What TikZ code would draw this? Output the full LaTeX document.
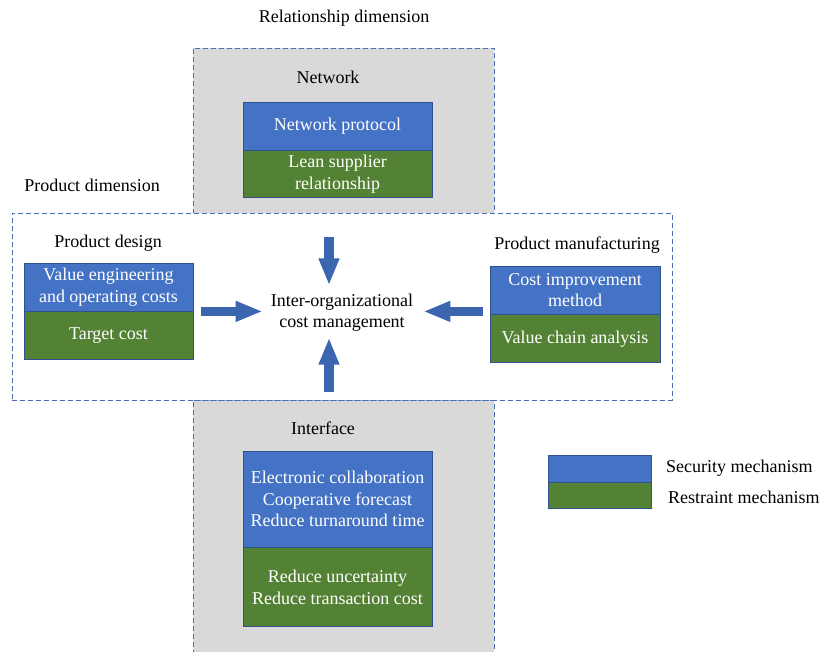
\documentclass[tikz,border=0pt]{standalone}
\usepackage{fontspec}
\setmainfont{Liberation Serif}
\usepackage{tikz}
\usetikzlibrary{arrows.meta,positioning}
\definecolor{secblue}{HTML}{4472C4}
\definecolor{resgreen}{HTML}{548235}
\definecolor{edgeblue}{HTML}{2F528F}
\definecolor{panelgray}{HTML}{D9D9D9}
\definecolor{dashblue}{HTML}{4A6FB5}
\definecolor{arrowblue}{HTML}{3C65B0}

\begin{document}
\begin{tikzpicture}[
  x=1pt, y=-1pt,
  node distance=0pt,
  every node/.style={font=\fontsize{18}{21.5}\selectfont},
  panel/.style={rectangle, draw=dashblue, line width=1pt, dash pattern=on 5pt off 3pt,
                inner sep=0pt},
  secbox/.style={rectangle, draw=edgeblue, line width=0.8pt, fill=secblue,
                 text=white, align=center, inner sep=0pt},
  resbox/.style={rectangle, draw=edgeblue, line width=0.8pt, fill=resgreen,
                 text=white, align=center, inner sep=0pt},
  caption/.style={align=center, inner sep=0pt},
  blockarrow/.style={-{Triangle[length=27pt,width=19pt]}, line width=9.5pt,
                     draw=arrowblue},
]
\useasboundingbox (0,0) rectangle (822,651);
\clip (0,0) rectangle (822,651);

% Panels
\node[panel, fill=panelgray, minimum width=301pt, minimum height=165pt] (netpanel) at (343.5,130.5) {};
\node[panel, fill=panelgray, minimum width=301pt, minimum height=260pt] (intpanel) at (343.5,530) {};
\node[panel, fill=white, minimum width=660pt, minimum height=187pt] (prodpanel) at (342,306.5) {};

% Dimension labels
\node[caption] (reldim) at (344,18) {Relationship dimension};
\node[caption] (proddim) at (92,185) {Product dimension};

% Relationship: network
\node[caption] (netlbl) at (328,77) {Network};
\node[secbox, minimum width=189pt, minimum height=48pt] (netsec) at (337.5,126) {Network protocol};
\node[resbox, minimum width=189pt, minimum height=47pt, below=of netsec] (netres) {Lean supplier\\relationship};

% Product design
\node[caption] (deslbl) at (108,243) {Product design};
\node[secbox, minimum width=169pt, minimum height=48pt] (dessec) at (108.5,287) {Value engineering\\and operating costs};
\node[resbox, minimum width=169pt, minimum height=48pt, below=of dessec] (desres) {Target cost};

% Product manufacturing
\node[caption] (manlbl) at (577,245) {Product manufacturing};
\node[secbox, minimum width=170pt, minimum height=48pt] (mansec) at (575,290) {Cost improvement\\method};
\node[resbox, minimum width=170pt, minimum height=48pt, below=of mansec] (manres) {Value chain analysis};

% Centre
\node[caption] (icm) at (342,312.5) {Inter-organizational\\cost management};

% Relationship: interface
\node[caption] (intlbl) at (323,428) {Interface};
\node[secbox, minimum width=189pt, minimum height=96pt] (intsec) at (337.5,499) {Electronic collaboration\\Cooperative forecast\\Reduce turnaround time};
\node[resbox, minimum width=189pt, minimum height=79pt, below=of intsec] (intres) {Reduce uncertainty\\Reduce transaction cost};

% Legend
\node[secbox, minimum width=103pt, minimum height=27pt] (legsec) at (599.5,468.5) {};
\node[resbox, minimum width=103pt, minimum height=26pt, below=of legsec] (legres) {};
\node[caption, anchor=west] (legsectxt) at (666,468) {Security mechanism};
\node[caption, anchor=west] (legrestxt) at (668,497) {Restraint mechanism};

% Arrows
\draw[blockarrow, shorten <=23pt, shorten >=8pt] ([xshift=-14.5pt]netpanel.south) -- ([xshift=-13pt]icm.north);
\draw[blockarrow, shorten <=8pt, shorten >=6pt] ([xshift=-14.5pt]intpanel.north) -- ([xshift=-13pt]icm.south);
\draw[blockarrow, shorten <=8pt, shorten >=8pt] (dessec.south east) -- (icm.west |- dessec.south);
\draw[blockarrow, shorten <=7pt, shorten >=10pt] (dessec.south -| mansec.west) -- (icm.east |- dessec.south);
\end{tikzpicture}
\end{document}
